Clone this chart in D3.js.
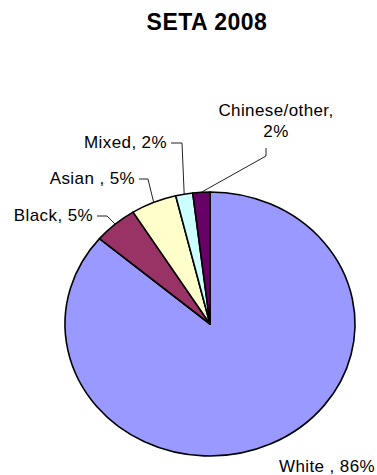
<!DOCTYPE html>
<html>
<head>
<meta charset="utf-8">
<script src="https://cdn.jsdelivr.net/npm/d3@7"></script>
<style>
  body { margin: 0; background: #fff; }
  text { font-family: "Liberation Sans", Arial, sans-serif; }
</style>
</head>
<body>
<div id="ch"></div>
<script>
// SETA 2008 ethnicity pie

const title = "SETA 2008";
const groups = ["White ", "Black", "Asian ", "Mixed", "Chinese/other"];
const shares = [86.2, 4.9, 5.1, 1.9, 1.9];
const shownPct = ["86%", "5%", "5%", "2%", "2%"];
const fills = ["#9999FF", "#993366", "#FFFFCC", "#CCFFFF", "#660066"];

const width = 377;
const height = 475;

/* Dimensions */
const cx = 210;
const cy = 324;
const ry = 132;
const rx = 145;

const svg = d3
  .select("#ch")
  .append("svg")
  .attr("width", width)
  .attr("height", height)
  .style("background", "#fff");

svg.append("text")
  .attr("x", 207)
  .attr("y", 30)
  .attr("text-anchor", "middle")
  .style("font-size", "23px")
  .style("font-weight", "bold")
  .style("letter-spacing", "0.5px")
  .text(title);

const pie = d3.pie().sort(null).value((d) => d.v);
const arcs = pie(groups.map((g, i) => ({ g: g, v: shares[i], i: i })));
const arc = d3.arc().innerRadius(0).outerRadius(ry);

/* Slices, stretched a bit sideways like the original */
const pieG = svg.append("g")
  .attr("transform", `translate(${cx},${cy}) scale(${rx / ry},1)`);

pieG.selectAll("path")
  .data(arcs)
  .enter()
  .append("path")
  .attr("d", arc)
  .attr("fill", (d) => fills[d.index])
  .attr("stroke", "#000")
  .attr("stroke-width", 1.6)
  .attr("vector-effect", "non-scaling-stroke")
  .attr("stroke-linejoin", "round");

/* point on the rim at the middle of a slice */
const rim = (d) => {
  const a = (d.startAngle + d.endAngle) / 2;
  return [cx + rx * Math.sin(a), cy - ry * Math.cos(a)];
};

/* Labels: anchor position + elbow of the leader line */
const labelPos = [
  { x: 279, y: 472, anchor: "start", elbow: null },
  { x: 93, y: 221, anchor: "end", elbow: [[97, 216], [107, 216]] },
  { x: 135, y: 184, anchor: "end", elbow: [[139, 179], [148, 179]] },
  { x: 167, y: 148, anchor: "end", elbow: [[171, 143], [182, 143]] },
  { x: 276, y: 116, anchor: "middle", elbow: [[266, 148], [266, 156]] }
];

const line = d3.line();

arcs.forEach((d, i) => {
  const p = labelPos[i];
  if (p.elbow) {
    svg.append("path")
      .attr("d", line(p.elbow.concat([rim(d)])))
      .attr("fill", "none")
      .attr("stroke", "#222")
      .attr("stroke-width", 1);
  }
  const t = svg.append("text")
    .attr("x", p.x)
    .attr("y", p.y)
    .attr("text-anchor", p.anchor)
    .style("font-size", "17px")
    .style("letter-spacing", "0.4px")
    .style("fill", "#000");
  if (i === 4) {
    t.append("tspan").attr("x", p.x).text(groups[i] + ",");
    t.append("tspan").attr("x", p.x).attr("dy", 21).text(shownPct[i]);
  } else {
    t.text(groups[i] + ", " + shownPct[i]);
  }
});
</script>
</body>
</html>
